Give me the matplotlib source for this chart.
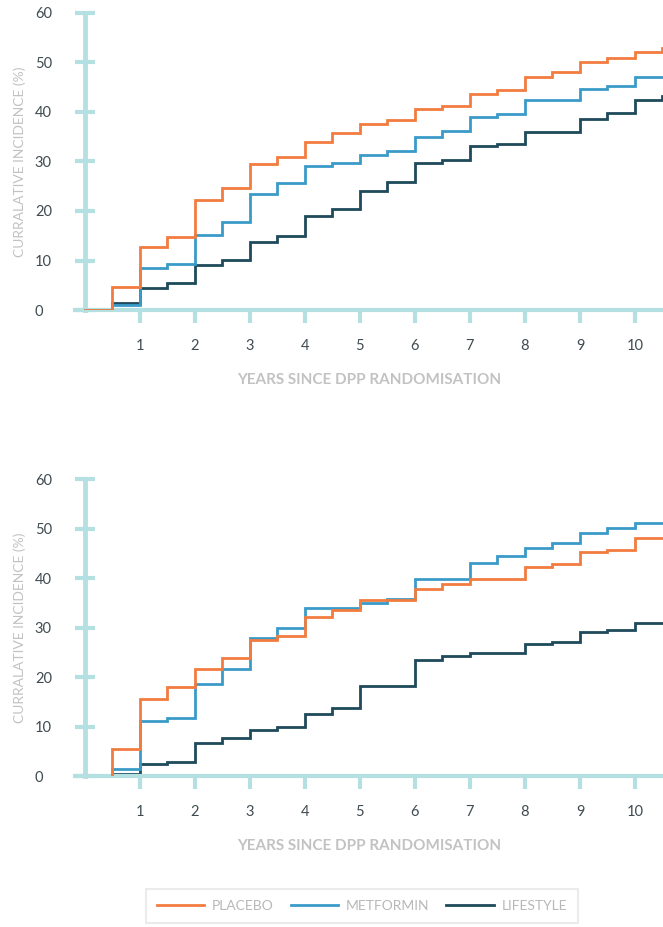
import matplotlib
matplotlib.use("Agg")
import matplotlib.pyplot as plt

plt.rcParams['font.family'] = ['Lato', 'DejaVu Sans']

# step start times (years) and cumulative incidence (%)
years_top = [0, 0.5, 1, 1.5, 2, 2.5, 3, 3.5, 4, 4.5, 5, 5.5, 6, 6.5, 7, 7.5, 8, 8.5, 9, 9.5, 10, 10.5]
placebo_top = [0, 4.6, 12.7, 14.7, 22.2, 24.7, 29.5, 30.9, 33.9, 35.7, 37.5, 38.4,
               40.6, 41.3, 43.7, 44.4, 47.1, 48.1, 50.2, 51.0, 52.2, 52.9]
metformin_top = [0, 1.0, 8.5, 9.3, 15.1, 17.7, 23.4, 25.6, 29.1, 29.6, 31.4, 32.1,
                 34.9, 36.2, 39.0, 39.6, 42.4, 42.4, 44.6, 45.3, 47.0, 47.0]
lifestyle_top = [0, 1.5, 4.4, 5.5, 9.1, 10.1, 13.7, 15.0, 18.9, 20.4, 24.1, 25.9,
                 29.6, 30.4, 33.1, 33.5, 36.0, 36.0, 38.5, 39.7, 42.4, 43.3]

years_bottom = [0.5, 1, 1.5, 2, 2.5, 3, 3.5, 4, 4.5, 5, 5.5, 6, 6.5, 7, 7.5, 8, 8.5, 9, 9.5, 10]
placebo_bottom = [5.4, 15.6, 18.0, 21.6, 23.9, 27.5, 28.3, 32.2, 33.5, 35.6, 35.6,
                  37.9, 38.8, 39.8, 39.8, 42.3, 42.8, 45.3, 45.8, 48.1]
metformin_bottom = [1.35, 11.1, 11.8, 18.6, 21.6, 28.0, 30.0, 34.0, 34.0, 34.9, 35.7,
                    39.8, 39.8, 43.1, 44.5, 46.2, 47.2, 49.1, 50.2, 51.2]
lifestyle_bottom = [0.5, 2.4, 2.9, 6.7, 7.6, 9.3, 10.0, 12.5, 13.7, 18.2, 18.2,
                    23.4, 24.3, 24.9, 24.9, 26.6, 27.1, 29.1, 29.5, 30.9]

x_ticks = list(range(1, 11))
y_ticks = [0, 10, 20, 30, 40, 50, 60]
labels = ['PLACEBO', 'METFORMIN', 'LIFESTYLE']
colors = ['#f27c3f', '#3a9bc8', '#1e4a5b']
end_year = 10.6

axis_col = '#b5e0e1'
tick_col = '#3f4b50'
label_col = '#c2c2c2'

fig = plt.figure(figsize=(6.63, 9.27), dpi=100)
ax_top = fig.add_axes([75 / 663, 1 - 310 / 927, 588 / 663, 297 / 927])
ax_bot = fig.add_axes([75 / 663, 1 - 776 / 927, 588 / 663, 296.7 / 927])


def draw(ax, years, series):
    handles = []
    for vals, col, lab, z in zip(series, colors, labels, [4, 3, 2]):
        xs = [years[0]] + years + [end_year]
        ys = [0] + vals + [vals[-1]]
        h, = ax.plot(xs, ys, drawstyle='steps-post', color=col, lw=2.0,
                     label=lab, zorder=z, solid_joinstyle='miter')
        handles.append(h)

    ax.set_xlim(-0.18, 10.51)
    ax.set_ylim(0, 60)
    for s in ['top', 'right']:
        ax.spines[s].set_visible(False)
    ax.spines['left'].set_position(('data', 0))
    ax.spines['left'].set_bounds(0, 60)
    ax.spines['left'].set_color(axis_col)
    ax.spines['left'].set_linewidth(3.5)
    ax.spines['bottom'].set_color(axis_col)
    ax.spines['bottom'].set_linewidth(3.0)

    ax.set_xticks(x_ticks)
    ax.set_yticks(y_ticks)
    ax.tick_params(axis='x', direction='out', length=9, width=3, color=axis_col,
                   pad=12, labelsize=10.5, labelcolor=tick_col)
    ax.tick_params(axis='y', direction='inout', length=14, width=3, color=axis_col,
                   pad=29, labelsize=10.5, labelcolor=tick_col)
    for t in ax.get_yticklabels():
        t.set_horizontalalignment('left')

    ax.set_xlabel('YEARS SINCE DPP RANDOMISATION', fontsize=11, fontweight='bold',
                  color=label_col, labelpad=14)
    ax.set_ylabel('CURRALATIVE INCIDENCE (%)', fontsize=10, color=label_col)
    ax.yaxis.set_label_coords(-0.083, 0.5)
    return handles


draw(ax_top, years_top, [placebo_top, metformin_top, lifestyle_top])
handles = draw(ax_bot, years_bottom, [placebo_bottom, metformin_bottom, lifestyle_bottom])

leg = fig.legend(handles, labels, ncol=3, loc='center',
                 bbox_to_anchor=(362 / 663, 1 - 906 / 927),
                 frameon=True, fancybox=False, fontsize=10,
                 handlelength=3.4, handletextpad=0.6, columnspacing=1.2,
                 borderpad=0.8, labelcolor='#b8b8b8')
leg.get_frame().set_edgecolor('#e6e6e6')
leg.get_frame().set_linewidth(1.5)

fig.savefig('out.png', dpi=100)
